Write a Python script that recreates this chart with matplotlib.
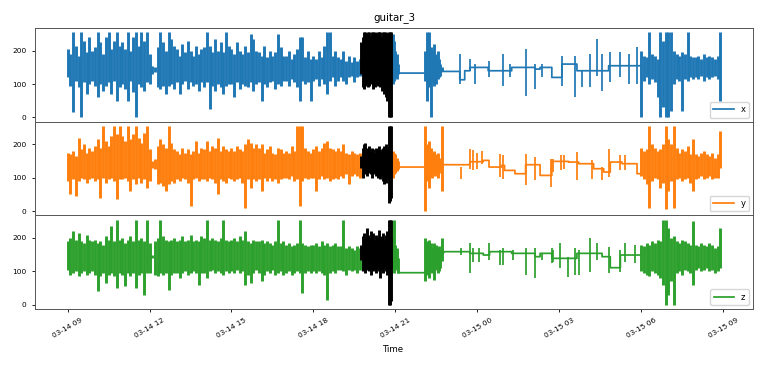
import numpy as np
import pandas as pd
import matplotlib
matplotlib.use('Agg')
import matplotlib.pyplot as plt
import matplotlib.dates as mdates

start = pd.Timestamp('2021-03-14 09:00')

# busy stretch 09:00-19:42: highest / lowest reading in each 6 min bin
x_day_hi = [205, 190, 255, 215, 185, 255, 230, 195, 240, 200,
            210, 255, 225, 190, 240, 255, 205, 230, 255, 215,
            225, 205, 255, 200, 240, 255, 215, 255, 230, 255,
            190, 155, 150, 210, 255, 225, 200, 255, 235, 215,
            205, 185, 220, 195, 230, 200, 185, 215, 190, 205,
            210, 255, 215, 195, 235, 200, 225, 195, 255, 215,
            205, 190, 225, 200, 190, 215, 195, 250, 235, 200,
            195, 185, 215, 180, 200, 185, 195, 250, 210, 185,
            185, 200, 175, 190, 205, 240, 240, 180, 200, 175,
            185, 175, 200, 180, 215, 255, 255, 185, 200, 180,
            175, 200, 170, 185, 165, 180, 170, 175]
x_day_lo = [120, 95, 15, 110, 90, 0, 105, 70, 100, 110,
            95, 60, 100, 80, 95, 105, 70, 110, 50, 90,
            100, 85, 50, 110, 75, 0, 100, 90, 80, 105,
            100, 130, 135, 90, 85, 95, 70, 95, 100, 85,
            105, 70, 100, 110, 85, 105, 95, 100, 80, 105,
            90, 105, 25, 95, 80, 100, 90, 70, 95, 100,
            100, 60, 105, 85, 100, 95, 90, 105, 80, 100,
            105, 50, 100, 90, 105, 110, 85, 100, 95, 110,
            110, 95, 115, 105, 90, 50, 110, 100, 105, 50,
            110, 115, 95, 115, 100, 70, 110, 120, 95, 110,
            120, 110, 100, 120, 125, 105, 120, 125]
y_day_hi = [175, 170, 180, 165, 220, 185, 200, 175, 190, 180,
            195, 215, 190, 255, 210, 195, 225, 255, 230, 255,
            225, 210, 255, 215, 230, 255, 220, 205, 235, 255,
            185, 150, 155, 195, 215, 200, 190, 255, 205, 185,
            180, 170, 190, 175, 185, 170, 180, 210, 175, 190,
            185, 210, 180, 195, 190, 220, 180, 195, 185, 180,
            190, 180, 195, 185, 180, 200, 215, 205, 190, 200,
            190, 200, 175, 185, 195, 175, 170, 190, 185, 175,
            180, 175, 195, 180, 255, 255, 255, 190, 180, 175,
            185, 195, 180, 190, 205, 210, 190, 185, 180, 190,
            180, 200, 175, 170, 180, 175, 170, 175]
y_day_lo = [90, 50, 95, 45, 90, 100, 95, 85, 95, 100,
            90, 95, 40, 100, 85, 95, 100, 90, 35, 95,
            95, 100, 90, 60, 95, 80, 100, 85, 95, 70,
            90, 130, 125, 80, 85, 75, 60, 80, 90, 85,
            95, 90, 100, 95, 85, 15, 95, 100, 90, 95,
            95, 90, 100, 95, 85, 50, 95, 90, 85, 100,
            95, 90, 95, 100, 85, 10, 95, 70, 95, 90,
            95, 60, 100, 90, 100, 90, 95, 85, 95, 100,
            100, 95, 105, 90, 95, 15, 90, 100, 95, 100,
            100, 60, 95, 105, 95, 100, 90, 95, 100, 95,
            105, 100, 110, 80, 105, 110, 105, 100]
z_day_hi = [190, 200, 220, 195, 215, 190, 185, 210, 195, 190,
            195, 185, 190, 180, 205, 195, 235, 190, 255, 195,
            200, 185, 195, 205, 190, 255, 195, 200, 190, 255,
            185, 150, 190, 200, 255, 205, 195, 190, 195, 200,
            190, 195, 205, 190, 195, 210, 190, 195, 190, 205,
            200, 255, 195, 200, 195, 190, 200, 255, 195, 190,
            195, 200, 190, 205, 195, 220, 190, 185, 195, 190,
            190, 195, 185, 190, 185, 180, 190, 255, 185, 190,
            180, 185, 175, 180, 185, 255, 185, 180, 175, 180,
            180, 185, 175, 190, 180, 185, 175, 180, 185, 175,
            175, 255, 170, 175, 170, 165, 175, 170]
z_day_lo = [105, 90, 95, 100, 85, 95, 100, 90, 95, 100,
            90, 40, 85, 95, 65, 90, 95, 85, 50, 95,
            90, 55, 95, 85, 95, 50, 90, 95, 30, 95,
            95, 140, 90, 85, 95, 90, 95, 45, 90, 95,
            95, 80, 95, 100, 90, 95, 100, 95, 60, 95,
            95, 80, 100, 105, 95, 100, 95, 90, 100, 95,
            100, 95, 105, 95, 100, 60, 90, 65, 95, 105,
            95, 70, 90, 100, 95, 105, 90, 95, 100, 90,
            95, 100, 90, 95, 100, 95, 35, 95, 100, 95,
            100, 95, 100, 95, 90, 15, 95, 100, 95, 105,
            105, 100, 90, 105, 100, 105, 95, 105]

# marked event 19:45-20:51, 3 min bins
x_event_hi = [225, 240, 255, 255, 250, 255, 255, 245, 255, 255, 255, 250,
              255, 255, 255, 240, 255, 255, 255, 250, 255, 255, 255]
x_event_lo = [130, 90, 85, 95, 100, 90, 95, 100, 110, 85, 90, 100,
              95, 105, 90, 80, 95, 70, 60, 50, 0, 0, 0]
y_event_hi = [165, 190, 200, 205, 190, 185, 195, 180, 190, 185, 175, 190,
              185, 195, 180, 185, 190, 195, 200, 190, 255, 255, 255]
y_event_lo = [130, 100, 110, 115, 105, 120, 115, 110, 100, 110, 115, 105,
              100, 110, 95, 105, 90, 80, 85, 95, 25, 30, 40]
z_event_hi = [180, 205, 215, 200, 230, 210, 200, 220, 205, 215, 195, 210,
              200, 225, 205, 200, 215, 195, 210, 220, 255, 255, 255]
z_event_lo = [135, 100, 110, 95, 105, 115, 100, 90, 110, 100, 105, 95,
              110, 100, 80, 105, 95, 110, 100, 90, 0, 0, 10]

# right after the event 20:54-21:06, 3 min bins
x_after_hi = [250, 230, 200, 190, 160]
x_after_lo = [100, 110, 120, 115, 130]
y_after_hi = [180, 175, 170, 160, 150]
y_after_lo = [100, 110, 115, 120, 125]
z_after_hi = [200, 255, 180, 170, 140]
z_after_lo = [110, 95, 105, 110, 96]

# flat until 22:04
x_flat, y_flat, z_flat = 133, 132, 96

# burst 22:06-22:42, 3 min bins
x_burst_hi = [200, 255, 230, 255, 210, 200, 220, 190, 185, 200, 175, 160, 150]
x_burst_lo = [110, 50, 100, 90, 0, 105, 95, 110, 100, 115, 120, 125, 138]
y_burst_hi = [255, 200, 180, 210, 190, 175, 180, 170, 165, 175, 160, 150, 255]
y_burst_lo = [0, 90, 100, 70, 105, 100, 110, 105, 110, 100, 115, 125, 60]
z_burst_hi = [200, 190, 180, 195, 185, 170, 185, 175, 180, 170, 175, 165, 200]
z_burst_lo = [70, 90, 100, 80, 100, 95, 75, 105, 110, 95, 100, 110, 130]

# quiet night: level changes (hours after 03-14 09:00)
x_step_t = [13.75, 14.36, 14.54, 14.73, 15.40, 16.26, 17.12, 17.30, 17.73,
            18.10, 18.65, 19.81]
x_step_v = [138, 113, 140, 150, 140, 150, 145, 150, 120, 160, 140, 155]
y_step_t = [13.80, 14.73, 15.22, 15.43, 15.89, 16.00, 16.38, 16.77, 17.30,
            17.73, 18.34, 18.71, 19.26, 19.63, 19.87, 20.30, 20.85]
y_step_v = [139, 148, 152, 132, 137, 122, 112, 139, 107, 149, 147, 142,
            127, 117, 147, 142, 112]
z_step_t = [13.80, 14.73, 15.22, 15.45, 16.26, 17.12, 17.30, 17.73, 18.65,
            19.57, 19.87, 20.24]
z_step_v = [159, 154, 149, 159, 154, 144, 154, 139, 154, 144, 111, 149]

# short spikes during the quiet night
x_spike_t = [14.36, 14.73, 14.90, 15.43, 15.95, 16.20, 16.77, 17.12, 17.36,
             18.10, 18.59, 18.83, 19.14, 19.38, 19.57, 19.87, 20.24, 20.55, 20.85]
x_spike_hi = [190, 175, 160, 170, 190, 160, 205, 160, 160, 185, 185, 140,
              190, 235, 190, 195, 195, 190, 210]
x_spike_lo = [100, 140, 100, 120, 95, 120, 65, 85, 120, 95, 60, 90,
              90, 125, 80, 105, 120, 100, 100]
y_spike_t = [14.42, 14.73, 14.85, 14.98, 15.16, 15.82, 15.95, 16.77, 17.12,
             17.70, 17.79, 18.07, 18.16, 18.65, 19.20, 19.57, 19.81, 20.24, 20.42]
y_spike_hi = [132, 187, 182, 175, 180, 172, 167, 172, 162, 157, 157, 167,
              167, 177, 152, 132, 187, 167, 167]
y_spike_lo = [97, 127, 122, 125, 140, 102, 97, 77, 92, 72, 117, 122,
              127, 92, 97, 92, 102, 122, 122]
z_spike_t = [14.42, 14.73, 14.85, 15.05, 15.43, 15.82, 15.95, 16.32, 16.77,
             17.12, 17.36, 17.73, 17.79, 18.03, 18.34, 18.59, 18.71, 19.14,
             19.38, 19.81, 20.24, 20.42, 20.79]
z_spike_hi = [169, 184, 169, 169, 184, 164, 169, 164, 169, 169, 154, 169,
              164, 184, 144, 169, 164, 199, 184, 174, 164, 184, 179]
z_spike_lo = [149, 94, 129, 129, 134, 119, 119, 134, 89, 79, 134, 124,
              129, 109, 84, 89, 89, 99, 134, 94, 99, 129, 124]

# busy morning 06:00-08:54, 6 min bins
x_morning_hi = [200, 185, 180, 255, 190, 185, 175, 255, 230, 255,
                255, 255, 200, 190, 185, 195, 190, 255, 185, 180,
                180, 185, 175, 190, 180, 185, 180, 175, 185, 255]
x_morning_lo = [0, 110, 120, 100, 115, 105, 60, 0, 30, 0,
                0, 20, 100, 115, 110, 20, 115, 110, 120, 115,
                120, 115, 125, 110, 120, 115, 120, 125, 115, 50]
y_morning_hi = [190, 180, 185, 255, 200, 190, 180, 185, 200, 255,
                215, 200, 255, 190, 175, 185, 180, 195, 170, 215,
                170, 165, 175, 180, 170, 165, 175, 160, 170, 240]
y_morning_lo = [105, 95, 80, 10, 90, 100, 95, 70, 85, 5,
                60, 90, 10, 95, 100, 90, 95, 100, 85, 60,
                95, 100, 105, 95, 100, 105, 95, 100, 100, 130]
z_morning_hi = [180, 175, 185, 180, 190, 185, 195, 190, 255, 255,
                230, 200, 205, 190, 185, 195, 190, 185, 180, 250,
                180, 175, 185, 180, 175, 185, 180, 170, 175, 230]
z_morning_lo = [100, 95, 90, 85, 100, 95, 90, 80, 60, 0,
                30, 70, 0, 95, 100, 90, 105, 100, 95, 60,
                105, 110, 100, 105, 110, 100, 105, 95, 100, 110]


def when(h):
    return (start + pd.to_timedelta(np.asarray(h, dtype=float), unit='h')).to_numpy()


def bins(t0, step, hi, lo):
    return when(t0 + np.arange(len(hi)) * step), lo, hi


def night(flat, step_t, step_v):
    edges = np.append(step_t, 21.0)
    t = np.concatenate([[12.1, 13.07], np.column_stack([edges[:-1], edges[1:]]).ravel()])
    v = np.concatenate([[flat, flat], np.repeat(step_v, 2)])
    return when(t), v


series = [
    ('x', '#1f77b4',
     [bins(0, 0.1, x_day_hi, x_day_lo), bins(11.9, 0.05, x_after_hi, x_after_lo),
      bins(13.1, 0.05, x_burst_hi, x_burst_lo), bins(21.0, 0.1, x_morning_hi, x_morning_lo)],
     night(x_flat, x_step_t, x_step_v), (x_spike_t, x_spike_lo, x_spike_hi),
     bins(10.75, 0.05, x_event_hi, x_event_lo)),
    ('y', '#ff7f0e',
     [bins(0, 0.1, y_day_hi, y_day_lo), bins(11.9, 0.05, y_after_hi, y_after_lo),
      bins(13.1, 0.05, y_burst_hi, y_burst_lo), bins(21.0, 0.1, y_morning_hi, y_morning_lo)],
     night(y_flat, y_step_t, y_step_v), (y_spike_t, y_spike_lo, y_spike_hi),
     bins(10.75, 0.05, y_event_hi, y_event_lo)),
    ('z', '#2ca02c',
     [bins(0, 0.1, z_day_hi, z_day_lo), bins(11.9, 0.05, z_after_hi, z_after_lo),
      bins(13.1, 0.05, z_burst_hi, z_burst_lo), bins(21.0, 0.1, z_morning_hi, z_morning_lo)],
     night(z_flat, z_step_t, z_step_v), (z_spike_t, z_spike_lo, z_spike_hi),
     bins(10.75, 0.05, z_event_hi, z_event_lo)),
]

lw = 1.25
fig, axes = plt.subplots(3, 1, sharex=True, figsize=(7.67, 3.65), dpi=100)
fig.subplots_adjust(left=0.0456, right=0.9817, top=0.923, bottom=0.1534, hspace=0)

for ax, (name, color, busy, (nt, nv), (st, slo, shi), (et, elo, ehi)) in zip(axes, series):
    ax.plot(nt, nv, color=color, lw=lw, label=name)
    ax.vlines(when(st), slo, shi, color=color, lw=lw)
    for bt, blo, bhi in busy:
        ax.vlines(bt, blo, bhi, color=color, lw=2.1)
    ax.vlines(et, elo, ehi, color='black', lw=2.1, zorder=3)
    ax.set_yticks([0, 100, 200])
    ax.tick_params(labelsize=5.3, length=2.5, width=0.6)
    for s in ax.spines.values():
        s.set_linewidth(0.7)
        s.set_color('#555555')
    ax.legend(loc='lower right', fontsize=6, handlelength=2.5)

axes[0].set_title('guitar_3', fontsize=7.4)
axes[2].xaxis.set_major_locator(mdates.HourLocator(byhour=range(0, 24, 3)))
axes[2].xaxis.set_major_formatter(mdates.DateFormatter('%m-%d %H'))
axes[2].tick_params(axis='x', labelrotation=30)
axes[2].set_xlabel('Time', fontsize=6.2)

plt.savefig('out.png')
